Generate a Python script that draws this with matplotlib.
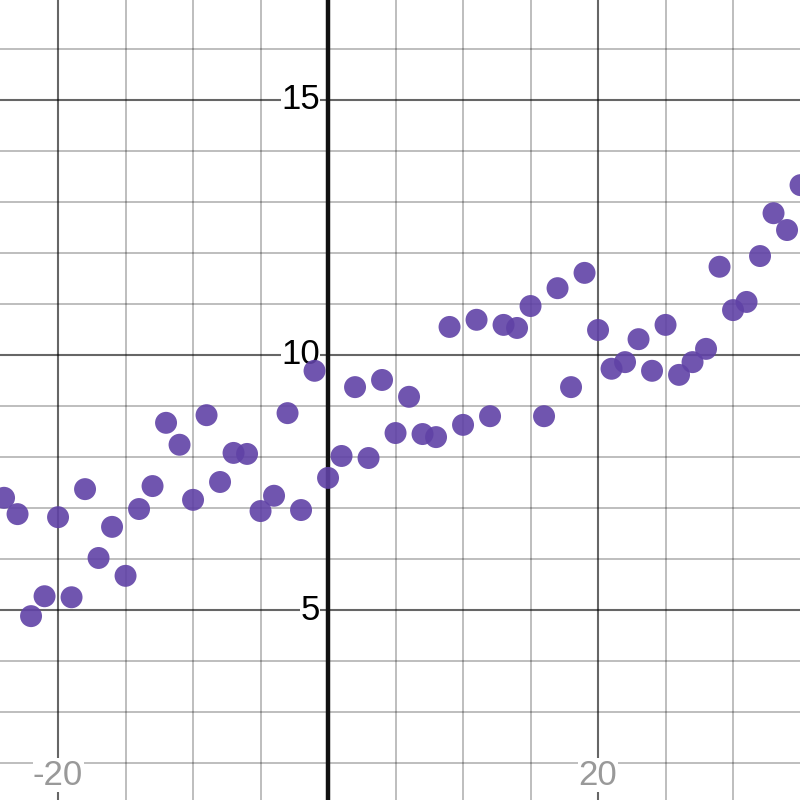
import matplotlib
matplotlib.use("Agg")
import matplotlib.pyplot as plt
import numpy as np

x_vals = list(range(-24, 36))
y_vals = [7.20, 6.88, 4.88, 5.27, 6.82, 5.25, 7.37, 6.02, 6.63, 5.67,
          6.98, 7.43, 8.67, 8.24, 7.16, 8.82, 7.51, 8.08, 8.06, 6.94,
          7.24, 8.86, 6.96, 9.69, 7.59, 8.02, 9.37, 7.98, 9.51, 8.47,
          9.18, 8.45, 8.39, 10.55, 8.63, 10.69, 8.80, 10.59, 10.53, 10.96,
          8.80, 11.31, 9.37, 11.61, 10.49, 9.73, 9.86, 10.31, 9.69, 10.59,
          9.61, 9.86, 10.12, 11.73, 10.88, 11.04, 11.94, 12.78, 12.45, 13.33]

y_tick_labels = ["5", "10", "15"]
x_tick_labels = ["-20", "20"]

xmin, xmax = -24.3, 34.96
ymin, ymax = 1.275, 16.96

fig = plt.figure(figsize=(8, 8), dpi=100)
ax = fig.add_axes([0, 0, 1, 1])
ax.set_xlim(xmin, xmax)
ax.set_ylim(ymin, ymax)
ax.axis("off")

# grid
for gx in np.arange(-20, 36, 5):
    if gx == 0:
        continue
    major = (gx % 20 == 0)
    ax.axvline(gx, color="black", alpha=0.6 if major else 0.3, lw=1.5 if major else 1.2, zorder=1)
for gy in range(2, 17):
    major = (gy % 5 == 0)
    ax.axhline(gy, color="black", alpha=0.6 if major else 0.3, lw=1.5 if major else 1.2, zorder=1)
ax.axvline(0, color="#111111", lw=3.2, zorder=2)

# tick labels
for lab in y_tick_labels:
    ax.text(-0.6, float(lab), lab, ha="right", va="center", fontsize=25,
            family="Liberation Sans", color="black", zorder=3,
            bbox=dict(facecolor="white", edgecolor="none", pad=0.3))
for lab in x_tick_labels:
    ax.text(float(lab), 1.76, lab, ha="center", va="center", fontsize=25,
            family="Liberation Sans", color="#999999", zorder=3,
            bbox=dict(facecolor="white", edgecolor="none", pad=0.3))

ax.scatter(x_vals, y_vals, s=250, color="#6042a6", alpha=0.9, edgecolors="none", zorder=4)

fig.savefig("out.png", dpi=100)
